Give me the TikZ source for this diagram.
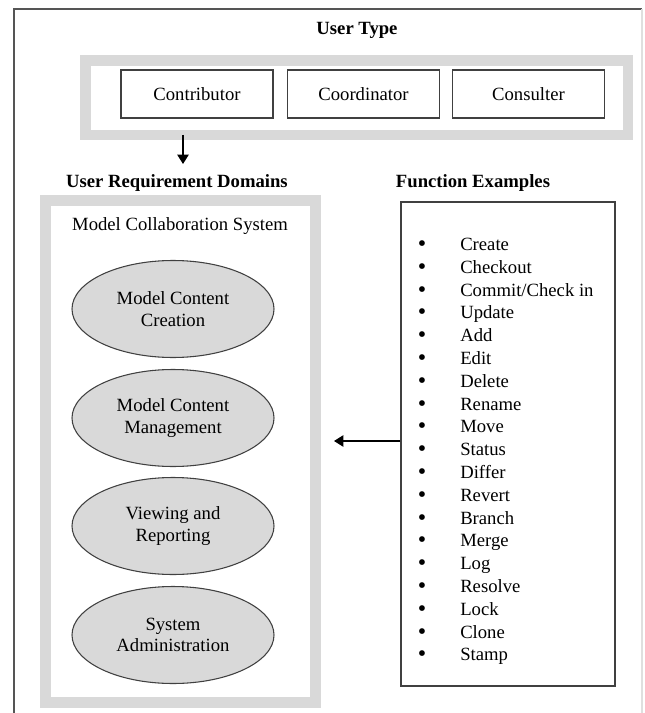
\documentclass[tikz,border=0pt]{standalone}
\usepackage{fontspec}
\setmainfont{Liberation Serif}
\usetikzlibrary{arrows.meta,shapes.geometric}
\definecolor{panelgray}{HTML}{D9D9D9}
\definecolor{linegray}{HTML}{404040}
\definecolor{framegray}{HTML}{555555}
\begin{document}
\begin{tikzpicture}[x=0.75pt,y=-0.75pt,
  txt/.style={font=\fontsize{14}{16}\selectfont, inner sep=0pt},
  ttl/.style={font=\fontsize{14}{16}\selectfont\bfseries, inner sep=0pt},
  bul/.style={font=\fontsize{18}{18}\selectfont, inner sep=0pt, text height=7.5pt, text depth=-1.5pt},
  utbox/.style={draw=linegray, line width=1.1pt, minimum width=114pt, minimum height=36pt,
    font=\fontsize{14}{16}\selectfont, inner sep=0pt},
  domainell/.style={ellipse, draw=linegray, line width=0.8pt, fill=panelgray,
    minimum width=151.5pt, minimum height=72.75pt, inner sep=0pt, align=center,
    font=\fontsize{14}{16}\selectfont},
  panel/.style={draw=panelgray, line width=8pt},
  arr/.style={-{Triangle[length=7pt,width=8.5pt]}, line width=1.1pt, draw=black}
]
\useasboundingbox (0,0) rectangle (644,713);
\fill[white] (0,0) rectangle (644,713);
% outer frame
\draw[framegray, line width=1.5pt] (14,713) -- (14,9) -- (642,9);
\draw[gray!25, line width=1pt] (642,9) -- (642,713);
% gray panels
\draw[panel] (85.5,60.5) rectangle (628,135);
\draw[panel] (45.5,200.5) rectangle (315.5,702.5);
% user type
\node[ttl] (ut) at (357,30) {User Type};
\node[utbox] (c1) at (197,94) {Contributor};
\node[utbox] (c2) at (363.5,94) {Coordinator};
\node[utbox] (c3) at (528.5,94) {Consulter};
\coordinate (dstart) at (183,135);
\coordinate (dend) at (183,164);
\draw[arr] (dstart) -- (dend);
% titles
\node[ttl] (ud) at (177,183) {User Requirement Domains};
\node[ttl] (fe) at (473,183) {Function Examples};
% domains
\node[txt] (mcs) at (180,226) {Model Collaboration System};
\node[domainell] (d1) at (173,309) {Model Content\\Creation};
\node[domainell] (d2) at (173,418) {Model Content\\Management};
\node[domainell] (d3) at (173,526) {Viewing and\\Reporting};
\node[domainell] (d4) at (173,635) {System\\Administration};
% function box
\node[draw=linegray, line width=1.1pt, minimum width=160.5pt, minimum height=363pt, inner sep=0pt] (fbox) at (508,444) {};
\coordinate (atip) at (334,441);
\draw[arr] (fbox.west |- atip) -- (atip);
\foreach \t [count=\i from 0] in {Create,Checkout,Commit/Check in,Update,Add,Edit,Delete,Rename,Move,Status,Differ,Revert,Branch,Merge,Log,Resolve,Lock,Clone,Stamp}{
  \node[txt, anchor=base west] (it\i) at (460,{250.5+22.8*\i}) {\t};
  \node[bul] (b\i) at (422,{246.5+22.8*\i}) {\textbullet};
}
\end{tikzpicture}
\end{document}
